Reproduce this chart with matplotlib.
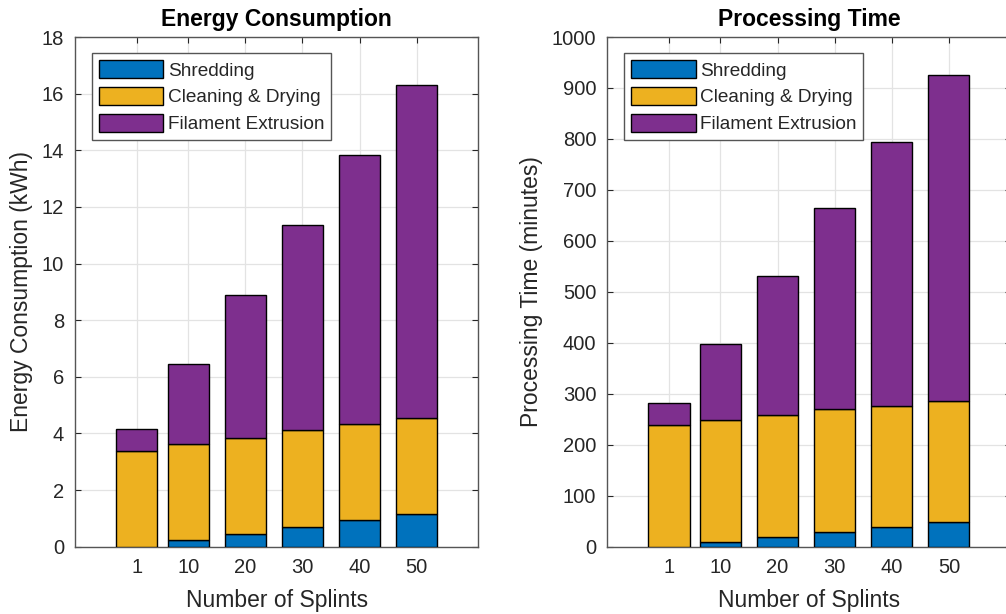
import matplotlib.pyplot as plt

# ----------------------------
# Data per batch size
# ----------------------------
splints = [1, 10, 20, 30, 40, 50]
tick_labels = ["1", "10", "20", "30", "40", "50"]
stages = ["Shredding", "Cleaning & Drying", "Filament Extrusion"]

# energy in kWh
energy_shred = [0.0, 0.23, 0.46, 0.70, 0.93, 1.17]
energy_clean = [3.39, 3.38, 3.38, 3.41, 3.41, 3.39]
energy_extrude = [0.76, 2.83, 5.04, 7.26, 9.51, 11.75]

# time in minutes
time_shred = [0, 9.5, 19, 28.5, 38, 47.5]
time_clean = [238.4, 238.7, 239.6, 240.7, 238.3, 238.5]
time_extrude = [42.6, 150.3, 273.4, 394.8, 518.7, 639.0]

COLORS = ["#0072BD", "#EDB120", "#7E2F8E"]
DARK = "#262626"

plt.rcParams["font.family"] = ["Liberation Sans", "DejaVu Sans"]


def stacked_panel(ax, parts, ymax, ystep, title, ylabel):
    bottom = [0.0] * len(splints)
    for vals, col, name in zip(parts, COLORS, stages):
        ax.bar(splints, vals, width=7.2, bottom=bottom, color=col,
               edgecolor="black", linewidth=1.0, label=name, zorder=3)
        bottom = [b + v for b, v in zip(bottom, vals)]

    ax.set_xlim(-9.8, 60.8)
    ax.set_ylim(0, ymax)
    ax.set_xticks(splints)
    ax.set_xticklabels(tick_labels)
    ax.set_yticks(range(0, ymax + 1, ystep))
    ax.grid(True, color="#e3e3e3", linewidth=0.9, zorder=0)
    ax.set_axisbelow(True)
    ax.tick_params(direction="in", top=True, right=True, length=4,
                   labelsize=14.5, colors=DARK, pad=8)
    for sp in ax.spines.values():
        sp.set_color("#555555")
        sp.set_linewidth(1.0)

    ax.set_title(title, fontsize=16.5, fontweight="bold", color="black", pad=8)
    ax.set_xlabel("Number of Splints", fontsize=16.5, color=DARK, labelpad=9)
    ax.set_ylabel(ylabel, fontsize=16.5, color=DARK, labelpad=6)

    leg = ax.legend(loc="upper left", bbox_to_anchor=(0.042, 0.968),
                    borderaxespad=0, fontsize=13.7, handlelength=3.4,
                    handleheight=1.1, labelspacing=0.38, handletextpad=0.23,
                    borderpad=0.35, fancybox=False, framealpha=1)
    leg.get_frame().set_edgecolor("#555555")
    leg.get_frame().set_linewidth(1.0)
    for t in leg.get_texts():
        t.set_color(DARK)


fig = plt.figure(figsize=(10.06, 6.14), dpi=100)
ax1 = fig.add_axes([0.0746, 0.1096, 0.4009, 0.8301])
ax2 = fig.add_axes([0.6037, 0.1096, 0.4009, 0.8301])

stacked_panel(ax1, [energy_shred, energy_clean, energy_extrude], 18, 2,
              "Energy Consumption", "Energy Consumption (kWh)")
stacked_panel(ax2, [time_shred, time_clean, time_extrude], 1000, 100,
              "Processing Time", "Processing Time (minutes)")

fig.savefig("out.png", dpi=100)
